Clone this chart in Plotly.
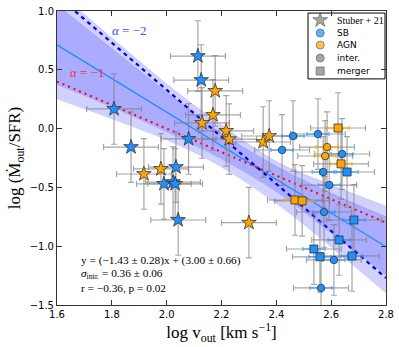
import plotly.graph_objects as go

# Stuber+21 (stars): log v_out, log (Mdot_out/SFR)
star_sb_x = [1.808, 1.870, 2.034, 1.990, 2.023, 2.031, 2.042, 2.114, 2.126, 2.080]
star_sb_y = [0.167, -0.157, -0.327, -0.470, -0.455, -0.470, -0.777, 0.617, 0.413, -0.088]
star_agn_x = [1.917, 1.979, 2.300, 2.177, 2.169, 2.129, 2.217, 2.228, 2.352, 2.374]
star_agn_y = [-0.386, -0.343, -0.800, 0.320, 0.116, 0.048, -0.020, -0.090, -0.114, -0.063]

# this work: circles = interacting, squares = mergers
circ_sb_x = [2.461, 2.552, 2.421, 2.640, 2.571, 2.593, 2.574, 2.610, 2.563]
circ_sb_y = [-0.063, -0.046, -0.182, -0.216, -0.369, -0.480, -0.709, -1.117, -1.355]
circ_agn_x = [2.585, 2.578]
circ_agn_y = [-0.157, -0.233]
sq_sb_x = [2.658, 2.683, 2.629, 2.537, 2.559, 2.676]
sq_sb_y = [-0.369, -0.777, -0.947, -1.024, -1.090, -1.083]
sq_agn_x = [2.625, 2.636, 2.468, 2.494]
sq_agn_y = [0.005, -0.300, -0.607, -0.615]

# error sizes (dex)
xerr_star = 0.10
yerr_all = 0.30
xerr_wide = 0.10
xerr_narrow = 0.04

# fit and reference slopes
line_x = [1.6, 2.8]
fit_y = [0.712, -1.004]
alpha2_y = [1.13, -1.27]
alpha1_y = [0.40, -0.80]

# confidence bands
band_x = [1.6, 1.8, 2.0, 2.2, 2.4, 2.6, 2.8]
outer_hi = [1.17, 0.77, 0.38, 0.03, -0.28, -0.48, -0.66]
outer_lo = [0.25, 0.08, -0.10, -0.33, -0.64, -1.01, -1.40]
inner_hi = [1.05, 0.68, 0.31, -0.04, -0.32, -0.55, -0.75]
inner_lo = [0.37, 0.18, -0.03, -0.26, -0.54, -0.89, -1.25]

# legend
legend_labels = ["Stuber + 21", "SB", "AGN", "inter.", "merger"]
legend_symbols = ["star", "circle", "circle", "circle", "square"]

SB = "#1E90FF"
AGN = "#FFA500"
GREY = "#808080"
GREY_ERR = "rgba(128,128,128,0.7)"
EDGE = "#333333"
legend_colors = [GREY, SB, AGN, GREY, GREY]

fig = go.Figure()

# bands
for hi, lo in [(outer_hi, outer_lo), (inner_hi, inner_lo)]:
    fig.add_scatter(x=band_x, y=lo, mode="lines", line=dict(width=0, shape="spline"),
                    showlegend=False, hoverinfo="skip")
    fig.add_scatter(x=band_x, y=hi, mode="lines", line=dict(width=0.5, color="rgba(0,0,255,0.25)", shape="spline"),
                    fill="tonexty", fillcolor="rgba(0,0,255,0.18)", showlegend=False, hoverinfo="skip")

fig.add_scatter(x=line_x, y=fit_y, mode="lines", line=dict(color=SB, width=1.3), showlegend=False)
fig.add_scatter(x=line_x, y=alpha2_y, mode="lines", line=dict(color="#0000EE", width=2.2, dash="4px,4px"),
                showlegend=False)
fig.add_scatter(x=line_x, y=alpha1_y, mode="lines", line=dict(color="#FF0000", width=2, dash="2px,4px"),
                showlegend=False)


def err(v):
    return dict(type="constant", value=v, color=GREY_ERR, thickness=1.2, width=3)


# stars
for xs, ys, col in [(star_sb_x, star_sb_y, SB), (star_agn_x, star_agn_y, AGN)]:
    fig.add_scatter(x=xs, y=ys, mode="markers", showlegend=False,
                    error_x=err(xerr_star), error_y=err(yerr_all),
                    marker=dict(symbol="star", size=11, color=col, line=dict(color=EDGE, width=0.8)))

# circles and squares: grey wide bars, coloured narrow bars on top
groups = [
    (circ_sb_x, circ_sb_y, SB, "circle", "rgba(30,144,255,0.6)"),
    (circ_agn_x, circ_agn_y, AGN, "circle", "rgba(255,165,0,0.7)"),
    (sq_sb_x, sq_sb_y, SB, "square", "rgba(30,144,255,0.6)"),
    (sq_agn_x, sq_agn_y, AGN, "square", "rgba(255,165,0,0.7)"),
]
for xs, ys, col, sym, ecol in groups:
    fig.add_scatter(x=xs, y=ys, mode="markers", showlegend=False,
                    error_x=err(xerr_wide), error_y=err(yerr_all),
                    marker=dict(size=1, opacity=0))
for xs, ys, col, sym, ecol in groups:
    fig.add_scatter(x=xs, y=ys, mode="markers", showlegend=False,
                    error_x=dict(type="constant", value=xerr_narrow, color=ecol, thickness=1.5, width=2),
                    marker=dict(symbol=sym, size=8 if sym == "square" else 7.5, color=col,
                                line=dict(color=EDGE, width=0.8)))

# hand-made legend on an overlay axis (plotly's own legend rows are too tall)
leg_y = [0.969, 0.925, 0.884, 0.840, 0.796]
fig.add_scatter(x=[0.80] * len(leg_y), y=leg_y, xaxis="x2", yaxis="y2", mode="markers",
                showlegend=False, hoverinfo="skip", cliponaxis=False,
                marker=dict(symbol=legend_symbols, color=legend_colors,
                            size=[11, 8, 8, 8, 8], line=dict(color=EDGE, width=0.8)))

annots = [
    dict(x=1.866, y=0.83, text="<i>α</i> = −2", font=dict(color="#4646FF", size=13, family="Liberation Serif"),
         xref="x", yref="y", showarrow=False),
    dict(x=1.713, y=0.48, text="<i>α</i> = −1", font=dict(color="#FF3030", size=13, family="Liberation Serif"),
         xref="x", yref="y", showarrow=False),
]
stats = ["y = (−1.43 ± 0.28)x + (3.00 ± 0.66)",
         "<i>σ</i><sub>intr.</sub> = 0.36 ± 0.06",
         "r = −0.36, p = 0.02"]
for txt, yy in zip(stats, [0.153, 0.105, 0.058]):
    annots.append(dict(x=0.067, y=yy, text=txt, xref="paper", yref="paper", xanchor="left",
                       yanchor="middle", showarrow=False,
                       font=dict(size=11.3, family="Liberation Serif", color="black")))
for lab, yy in zip(legend_labels, leg_y):
    serif = lab.startswith("Stuber")
    annots.append(dict(x=0.845, y=yy, text=lab, xref="paper", yref="paper", xanchor="left",
                       yanchor="middle", showarrow=False,
                       font=dict(size=10 if serif else 9, color="black",
                                 family="Liberation Serif" if serif else "DejaVu Sans")))
fig.update_layout(annotations=annots)
fig.add_shape(type="rect", xref="paper", yref="paper", x0=0.763, x1=0.997, y0=0.769, y1=0.993,
              line=dict(color="black", width=1), fillcolor="white", layer="below")

axis_common = dict(showline=True, linecolor="#333333", linewidth=1, mirror="ticks", ticks="inside",
                   ticklen=5, tickcolor="#333333", showgrid=False, zeroline=False, automargin=False,
                   ticklabeloverflow="allow",
                   tickfont=dict(family="DejaVu Sans", size=10, color="black"))
fig.update_xaxes(range=[1.6, 2.8], dtick=0.2, tickformat=".1f", **axis_common,
                 title=dict(text="log v<sub>out</sub> [km s<sup>−1</sup>]",
                            font=dict(family="Liberation Serif", size=17, color="black"), standoff=2))
fig.update_yaxes(range=[-1.5, 1.0], dtick=0.5, tickformat=".1f", **axis_common,
                 title=dict(text="log (Ṁ<sub>out</sub>/SFR)",
                            font=dict(family="Liberation Serif", size=17, color="black"), standoff=4))

fig.update_layout(
    width=399, height=347,
    margin=dict(l=57, r=13, t=11, b=42),
    plot_bgcolor="white", paper_bgcolor="white",
    xaxis2=dict(overlaying="x", range=[0, 1], visible=False, fixedrange=True),
    yaxis2=dict(overlaying="y", range=[0, 1], visible=False, fixedrange=True),
    showlegend=False,
)

# drop the page's default body margin so the figure sits at the window's corner
fig.write_html("out.html", config={"displayModeBar": False},
               post_script="document.body.style.margin='0';")
